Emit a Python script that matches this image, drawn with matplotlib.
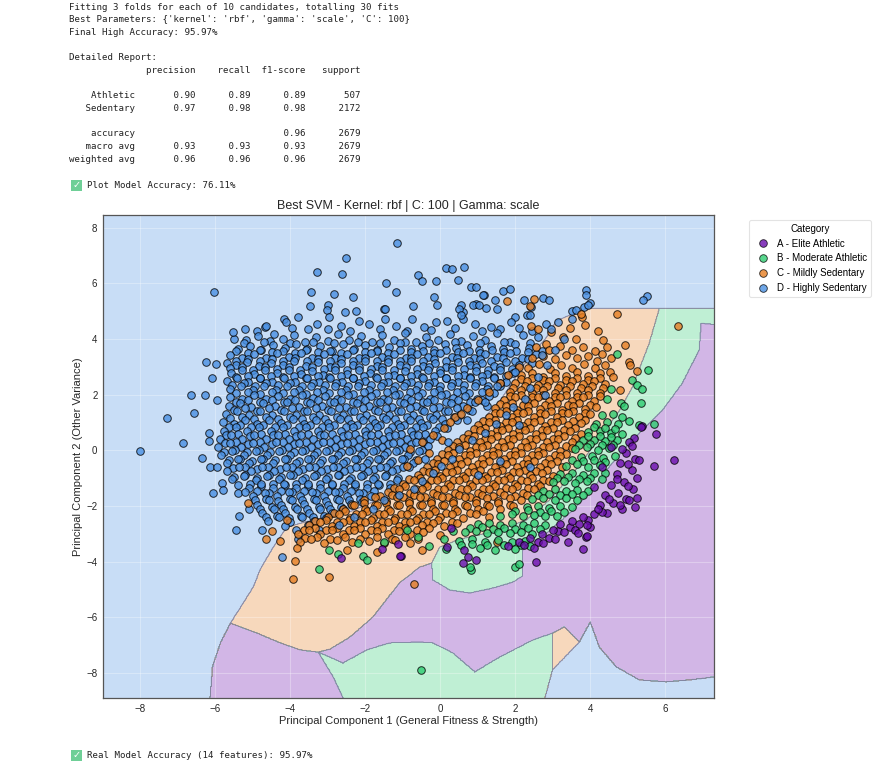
import matplotlib
matplotlib.use("Agg")
import matplotlib.pyplot as plt
import numpy as np
from matplotlib.lines import Line2D
from matplotlib.path import Path
from matplotlib.patches import Rectangle

plt.rcParams['font.family'] = ['Liberation Sans', 'DejaVu Sans']

categories = ["A - Elite Athletic", "B - Moderate Athletic",
              "C - Mildly Sedentary", "D - Highly Sedentary"]
colors = ["#6a0dad", "#2ecc71", "#e67e22", "#4a90e2"]

log_lines = [
    "Fitting 3 folds for each of 10 candidates, totalling 30 fits",
    "Best Parameters: {'kernel': 'rbf', 'gamma': 'scale', 'C': 100}",
    "Final High Accuracy: 95.97%",
    "",
    "Detailed Report:",
    "              precision    recall  f1-score   support",
    "",
    "    Athletic       0.90      0.89      0.89       507",
    "   Sedentary       0.97      0.98      0.98      2172",
    "",
    "    accuracy                           0.96      2679",
    "   macro avg       0.93      0.93      0.93      2679",
    "weighted avg       0.96      0.96      0.96      2679",
]
plot_acc = "Plot Model Accuracy: 76.11%"
real_acc = "Real Model Accuracy (14 features): 95.97%"

# decision regions (label, polygon in PC units)
purple_area = [(-6.16, -9.2), (-6.08, -7.78), (-5.87, -6.92), (-5.60, -6.21),
               (-4.0, -5.0), (-1.0, -4.0), (1.0, -3.0), (3.0, -2.0),
               (5.04, 0.25), (5.39, 0.72), (5.92, 1.43), (6.45, 2.40),
               (6.90, 3.59), (6.96, 4.56), (7.6, 4.48), (7.6, -9.2)]
orange_area = [(-5.60, -6.21), (-4.89, -6.57), (-4.27, -6.92), (-3.74, -7.17),
               (-3.26, -7.25), (-2.94, -7.14), (-2.41, -6.71), (-1.80, -5.99),
               (-1.08, -4.75), (-0.55, -4.20), (-0.23, -4.05), (-0.02, -3.48),
               (0.5, -3.2), (1.5, -2.9), (2.3, -2.5), (2.9, -1.8), (3.5, -0.9),
               (4.0, 0.0), (4.5, 0.9), (4.78, 1.43), (5.12, 2.26), (5.57, 3.84),
               (5.84, 5.09), (3.90, 5.09), (3.10, 4.66), (2.83, 4.05),
               (2.3, 3.2), (1.6, 1.8), (0.8, 0.6), (-0.2, -0.6), (-1.2, -1.5),
               (-2.4, -2.2), (-3.4, -2.5), (-4.09, -2.76), (-4.46, -3.48),
               (-4.81, -4.29), (-4.99, -4.91), (-5.26, -5.49)]
green_area = [(5.84, 5.09), (7.6, 5.09), (7.6, 4.48), (6.96, 4.56), (6.90, 3.59),
              (6.45, 2.40), (5.92, 1.43), (5.39, 0.72), (5.04, 0.25),
              (4.5, -0.6), (4.0, -1.5), (3.5, -2.2), (2.9, -2.9), (2.19, -3.59),
              (2.19, -4.52), (1.93, -4.74), (1.40, -4.95), (0.78, -5.13),
              (0.25, -5.02), (-0.20, -4.66), (-0.23, -4.05), (-0.02, -3.48),
              (0.5, -3.2), (1.5, -2.9), (2.3, -2.5), (2.9, -1.8), (3.5, -0.9),
              (4.0, 0.0), (4.5, 0.9), (4.78, 1.43), (5.12, 2.26), (5.57, 3.84)]
green_bottom = [(-3.26, -7.25), (-2.60, -7.64), (-1.96, -7.17), (-1.35, -6.92),
                (-0.55, -6.89), (-0.20, -6.92), (0.33, -7.28), (0.92, -7.96),
                (1.58, -7.43), (2.46, -6.82), (2.99, -6.57), (2.99, -7.89),
                (2.73, -9.2), (-2.49, -9.2), (-2.86, -8.14)]
orange_bottom = [(2.99, -6.57), (3.31, -6.35), (3.71, -6.89), (2.99, -7.89)]
blue_bottom = [(2.73, -9.2), (2.99, -7.89), (3.71, -6.89), (4.0, -6.17),
               (4.24, -7.07), (4.69, -7.78), (5.31, -8.25), (6.02, -8.32),
               (6.64, -8.25), (7.6, -8.1), (7.6, -9.2)]
regions = [(0, purple_area), (2, orange_area), (1, green_area),
           (1, green_bottom), (2, orange_bottom), (3, blue_bottom)]

# scatter points (x y pairs) per category
pts_A = """
5.75 0.57 5.38 0.86 5.17 0.44 5.04 0.30 4.55 0.12 6.24 -0.34 5.69 -0.57
4.95 -0.1 5.2 -0.3 4.8 -0.45 5.1 -0.7 4.7 -0.85 5.25 -1.0 4.9 -1.15
4.55 -1.25 5.15 -1.4 4.75 -1.55 4.4 -1.6 4.95 -1.75 4.6 -1.9 4.25 -1.95
4.85 -2.1 4.45 -2.25 4.1 -2.3 5.25 -1.7 5.2 -2.05 4.09 -1.32 4.3 -0.6
5.35 0.84 5.3 -0.36 5.03 -1.79 4.3 -2.21 3.98 -2.75
4.7 -1.05 5.0 -1.3 4.5 -1.75 4.8 -1.95 4.2 -2.1 3.95 -2.5 3.7 -2.65
3.45 -2.75 3.15 -2.9 2.9 -3.15 2.6 -3.3 5.0 -0.5 4.85 0.05 5.1 0.15
3.8 -2.4 3.5 -2.55 3.2 -2.65 3.9 -2.7 3.6 -2.85 3.3 -2.95 3.0 -2.85
2.7 -3.0 3.05 -3.2 2.4 -3.15 2.75 -3.35 2.1 -3.3 2.5 -3.5 3.4 -3.3
1.8 -3.45 3.67 -2.99 2.24 -3.41 3.88 -3.11
3.80 -3.55 3.92 -3.09 2.54 -4.01 0.63 -3.59 0.60 -4.04 0.96 -3.95
0.73 -3.83 0.29 -2.81 0.19 -3.47 -1.05 -3.80 -2.64 -3.86 -1.55 -3.56
-1.08 -3.80 -1.14 -3.37
"""
pts_B = """
4.70 3.44 5.54 2.87 5.10 2.54 5.24 2.36 5.37 2.21 5.36 1.70 5.69 0.96
5.29 0.90 5.04 1.05 4.82 1.70 4.9 1.6 4.55 2.2 4.45 1.85
4.3 1.25 4.6 1.3 4.85 1.2 4.15 0.95 4.45 1.0 4.75 0.95
3.95 0.65 4.25 0.7 4.55 0.62 4.85 0.6 3.8 0.35 4.1 0.38 4.4 0.32 4.7 0.35
3.95 0.5 4.25 0.52 4.55 0.48 4.1 0.82 4.4 0.8 4.65 0.78 3.7 0.2 4.0 0.22
4.3 0.18 4.6 0.2
3.6 0.05 3.9 0.1 4.2 0.02 4.5 0.08 3.75 -0.25 4.05 -0.2 4.35 -0.28 4.65 -0.22
3.5 -0.35 3.8 -0.4 4.1 -0.36 4.4 -0.42
3.35 -0.55 3.65 -0.5 3.95 -0.6 4.25 -0.52 3.2 -0.85 3.5 -0.8 3.8 -0.88
4.1 -0.82 4.4 -0.8 3.1 -1.0 3.4 -0.96 3.7 -1.02 4.0 -0.98 4.3 -1.02
3.0 -1.15 3.3 -1.1 3.6 -1.18 3.9 -1.12 2.75 -1.45 3.05 -1.4 3.35 -1.48
3.65 -1.42 3.95 -1.45 2.6 -1.6 2.9 -1.56 3.2 -1.62 3.5 -1.58 3.8 -1.62
2.45 -1.75 2.75 -1.7 3.05 -1.78 3.35 -1.72 3.65 -1.78 2.3 -2.05 2.6 -2.0
2.9 -2.08 3.2 -2.02 3.5 -2.05 2.0 -2.2 2.35 -2.16 2.65 -2.22 2.95 -2.18
3.3 -2.22
1.6 -2.35 1.9 -2.3 2.2 -2.38 2.5 -2.32 2.8 -2.38 3.1 -2.35 1.0 -2.65
1.3 -2.6 1.6 -2.68 1.9 -2.62 2.2 -2.68 2.5 -2.62 2.8 -2.7
0.8 -2.8 1.1 -2.76 1.4 -2.82 1.7 -2.78 2.0 -2.82 2.35 -2.78 2.65 -2.84
0.35 -2.9 0.65 -2.95 0.95 -2.9 1.25 -2.98 1.55 -2.92 1.85 -2.98 2.15 -2.92
2.45 -3.0 0.1 -3.2 0.5 -3.25 0.85 -3.2 1.2 -3.28 1.55 -3.22 1.9 -3.3 2.25 -3.25
0.55 -3.4 0.85 -3.38 1.25 -3.42 1.7 -3.4 2.15 -3.42
-0.3 -3.45 0.15 -3.55 1.05 -3.5 1.45 -3.6 2.0 -3.55 2.4 -3.45
0.83 -4.30 0.80 -4.19 1.98 -4.21 2.09 -4.07 -0.90 -2.87 -2.98 -3.59
-2.73 -3.73 -2.07 -3.80 -1.97 -3.95 -3.23 -4.27 -0.52 -7.89 -1.5 -3.3
-0.6 -3.1 -2.2 -3.35
"""
pts_C = """
4.71 4.88 3.78 4.78 3.75 4.90 4.33 3.95 4.93 3.77 5.04 3.17 5.06 3.05
5.25 2.84 4.53 2.81 4.60 2.63 4.30 3.44 4.17 3.20 4.78 2.15 2.51 5.44
1.78 5.35 2.38 5.18 6.33 4.48
2.42 4.48 2.6 4.35 2.95 4.25 3.27 4.07 3.62 4.0 3.45 4.4 3.85 4.5 4.2 4.3
2.82 3.83
2.55 3.7 2.9 3.6 3.2 3.75 3.5 3.6 3.8 3.72 4.12 3.58 4.45 3.7
2.45 3.3 2.75 3.4 3.05 3.28 3.35 3.42 3.65 3.3 3.95 3.4 4.55 3.3
2.35 2.95 2.62 3.08 2.93 2.92 3.22 3.06 3.52 2.94 3.82 3.08 4.12 2.95 4.38 3.05
2.15 2.7 2.45 2.78 2.75 2.64 3.05 2.78 3.35 2.65 3.65 2.8 3.95 2.66 4.25 2.76
2.15 2.55 2.45 2.6 2.75 2.52 3.05 2.6 3.35 2.52 3.65 2.6 3.95 2.52 4.25 2.58
2.0 2.4 2.3 2.5 2.6 2.36 2.9 2.5 3.2 2.36 3.5 2.5 3.8 2.38 4.1 2.5 4.4 2.38
1.95 2.25 2.25 2.3 2.55 2.22 2.85 2.3 3.15 2.22 3.45 2.3 3.75 2.22 4.05 2.3
4.35 2.24
1.85 2.1 2.15 2.18 2.45 2.04 2.75 2.18 3.05 2.05 3.35 2.18 3.65 2.04 3.95 2.16
4.25 2.06
1.85 1.95 2.15 2.0 2.45 1.92 2.75 2.0 3.05 1.92 3.35 2.0 3.65 1.92 3.95 2.0
4.25 1.94
1.7 1.8 2.0 1.9 2.3 1.76 2.6 1.9 2.9 1.76 3.2 1.9 3.5 1.77 3.8 1.9 4.1 1.78
1.6 1.65 1.9 1.7 2.2 1.62 2.5 1.7 2.8 1.62 3.1 1.7 3.4 1.62 3.7 1.7 4.0 1.64
1.45 1.5 1.75 1.6 2.05 1.46 2.35 1.6 2.65 1.47 2.95 1.6 3.25 1.46 3.55 1.58
3.85 1.48 4.15 1.56
1.45 1.35 1.75 1.4 2.05 1.32 2.35 1.4 2.65 1.32 2.95 1.4 3.25 1.32 3.55 1.4
3.85 1.34
1.3 1.2 1.6 1.32 1.9 1.18 2.2 1.32 2.5 1.18 2.8 1.3 3.1 1.18 3.4 1.32 3.7 1.2
4.0 1.3
1.15 1.05 1.45 1.1 1.75 1.02 2.05 1.1 2.35 1.02 2.65 1.1 2.95 1.02 3.25 1.1
3.55 1.04 3.85 1.1
1.0 0.9 1.3 1.02 1.6 0.88 1.9 1.0 2.2 0.86 2.5 1.0 2.8 0.88 3.1 1.02 3.4 0.9
3.75 0.98
0.9 0.75 1.2 0.8 1.5 0.72 1.8 0.8 2.1 0.72 2.4 0.8 2.7 0.72 3.0 0.8 3.3 0.74
3.6 0.8
0.75 0.6 1.05 0.72 1.35 0.58 1.65 0.72 1.95 0.58 2.25 0.72 2.55 0.6 2.85 0.72
3.15 0.58 3.45 0.7 3.75 0.6
0.6 0.45 0.9 0.5 1.2 0.42 1.5 0.5 1.8 0.42 2.1 0.5 2.4 0.42 2.7 0.5 3.0 0.42
3.3 0.5 3.6 0.44
0.45 0.3 0.75 0.42 1.05 0.28 1.35 0.42 1.65 0.28 1.95 0.42 2.25 0.3 2.55 0.42
2.85 0.28 3.15 0.42 3.5 0.3
0.35 0.15 0.65 0.2 0.95 0.12 1.25 0.2 1.55 0.12 1.85 0.2 2.15 0.12 2.45 0.2
2.75 0.12 3.05 0.2 3.35 0.14
0.2 0.0 0.5 0.12 0.8 -0.02 1.1 0.12 1.4 -0.02 1.7 0.12 2.0 -0.01 2.3 0.12
2.6 -0.02 2.9 0.1 3.2 -0.02 3.5 0.08
0.05 -0.15 0.35 -0.1 0.65 -0.18 0.95 -0.1 1.25 -0.18 1.55 -0.1 1.85 -0.18
2.15 -0.1 2.45 -0.18 2.75 -0.1 3.05 -0.16 3.35 -0.12
-0.1 -0.3 0.2 -0.18 0.5 -0.32 0.8 -0.18 1.1 -0.32 1.4 -0.18 1.7 -0.32 2.0 -0.18
2.3 -0.32 2.6 -0.18 2.9 -0.3 3.2 -0.2
-0.2 -0.45 0.1 -0.4 0.4 -0.48 0.7 -0.4 1.0 -0.48 1.3 -0.4 1.6 -0.48 1.9 -0.4
2.2 -0.48 2.5 -0.4 2.8 -0.46 3.1 -0.4
-0.35 -0.6 -0.05 -0.48 0.25 -0.62 0.55 -0.48 0.85 -0.62 1.15 -0.48 1.45 -0.62
1.75 -0.48 2.05 -0.62 2.35 -0.48 2.65 -0.6 2.95 -0.5 3.25 -0.62
-0.45 -0.75 -0.15 -0.7 0.15 -0.78 0.45 -0.7 0.75 -0.78 1.05 -0.7 1.35 -0.78
1.65 -0.7 1.95 -0.78 2.25 -0.7 2.55 -0.76 2.85 -0.7
-0.6 -0.9 -0.3 -0.78 0.0 -0.92 0.3 -0.78 0.6 -0.92 0.9 -0.78 1.2 -0.92
1.5 -0.78 1.8 -0.92 2.1 -0.78 2.4 -0.9 2.7 -0.8 3.0 -0.92
-0.85 -1.05 -0.55 -1.0 -0.25 -1.08 0.05 -1.0 0.35 -1.08 0.65 -1.0 0.95 -1.08
1.25 -1.0 1.55 -1.08 1.85 -1.0 2.15 -1.06 2.45 -1.0 2.75 -1.06
-1.0 -1.2 -0.7 -1.08 -0.4 -1.22 -0.1 -1.08 0.2 -1.22 0.5 -1.08 0.8 -1.22
1.1 -1.08 1.4 -1.22 1.7 -1.08 2.0 -1.2 2.3 -1.1 2.6 -1.22 2.9 -1.1
-1.25 -1.35 -0.95 -1.3 -0.65 -1.38 -0.35 -1.3 -0.05 -1.38 0.25 -1.3 0.55 -1.38
0.85 -1.3 1.15 -1.38 1.45 -1.3 1.75 -1.36 2.05 -1.3 2.35 -1.36 2.65 -1.3
-1.4 -1.5 -1.1 -1.38 -0.8 -1.52 -0.5 -1.38 -0.2 -1.52 0.1 -1.38 0.4 -1.52
0.7 -1.38 1.0 -1.52 1.3 -1.38 1.6 -1.5 1.9 -1.4 2.2 -1.52 2.5 -1.4
-1.6 -1.65 -1.3 -1.6 -1.0 -1.68 -0.7 -1.6 -0.4 -1.68 -0.1 -1.6 0.2 -1.68
0.5 -1.6 0.8 -1.68 1.1 -1.6 1.4 -1.66 1.7 -1.6 2.0 -1.66 2.3 -1.6
-2.05 -1.8 -1.75 -1.68 -1.45 -1.82 -1.15 -1.68 -0.85 -1.82 -0.55 -1.68
-0.25 -1.82 0.05 -1.68 0.35 -1.82 0.65 -1.68 0.95 -1.8 1.25 -1.7 1.55 -1.82
1.85 -1.7 2.15 -1.8
-2.35 -1.95 -2.05 -1.9 -1.75 -1.98 -1.45 -1.9 -1.15 -1.98 -0.85 -1.9
-0.55 -1.98 -0.25 -1.9 0.05 -1.98 0.35 -1.9 0.65 -1.96 0.95 -1.9 1.25 -1.96
1.55 -1.9 1.85 -1.95
-2.6 -2.1 -2.3 -1.98 -2.0 -2.12 -1.7 -1.98 -1.4 -2.12 -1.1 -1.98 -0.8 -2.12
-0.5 -1.98 -0.2 -2.12 0.1 -1.98 0.4 -2.1 0.7 -2.0 1.0 -2.12 1.3 -2.0 1.6 -2.1
1.95 -2.0
-2.85 -2.25 -2.55 -2.2 -2.25 -2.28 -1.95 -2.2 -1.65 -2.28 -1.35 -2.2
-1.05 -2.28 -0.75 -2.2 -0.45 -2.28 -0.15 -2.2 0.15 -2.26 0.45 -2.2 0.8 -2.26
1.15 -2.2
-3.0 -2.4 -2.7 -2.28 -2.4 -2.42 -2.1 -2.28 -1.8 -2.42 -1.5 -2.28 -1.2 -2.42
-0.9 -2.28 -0.6 -2.42 -0.3 -2.28 0.0 -2.4 0.3 -2.3 0.6 -2.42 0.95 -2.3 1.3 -2.4
-3.35 -2.55 -3.05 -2.5 -2.75 -2.58 -2.45 -2.5 -2.15 -2.58 -1.85 -2.5
-1.55 -2.58 -1.25 -2.5 -0.95 -2.58 -0.65 -2.5 -0.35 -2.56 -0.05 -2.5 0.3 -2.56
-3.5 -2.7 -3.2 -2.58 -2.9 -2.72 -2.6 -2.58 -2.3 -2.72 -2.0 -2.58 -1.7 -2.72
-1.4 -2.58 -1.1 -2.72 -0.8 -2.58 -0.5 -2.7 -0.2 -2.6 0.1 -2.72 0.45 -2.62
-3.65 -2.85 -3.35 -2.8 -3.05 -2.88 -2.75 -2.8 -2.45 -2.88 -2.15 -2.8
-1.85 -2.88 -1.55 -2.8 -1.25 -2.88 -0.95 -2.8 -0.62 -2.86 -0.3 -2.8
-3.8 -3.0 -3.5 -2.88 -3.2 -3.02 -2.9 -2.88 -2.6 -3.02 -2.3 -2.88 -2.0 -3.02
-1.7 -2.9 -1.4 -3.02 -1.1 -2.9 -0.8 -3.0 -0.45 -2.92 0.0 -3.05
-3.6 -3.15 -3.3 -3.1 -2.95 -3.18 -2.55 -3.12 -2.15 -3.18 -1.7 -3.12
-1.3 -3.18 -0.95 -3.12 -0.6 -3.18
-3.75 -3.3 -3.45 -3.2 -3.1 -3.35 -2.75 -3.22 -2.35 -3.3 -1.9 -3.25 -1.5 -3.35
-1.2 -3.22 -0.8 -3.32
-0.8 0.05 -0.5 0.3 -0.2 0.55 0.1 0.8 -0.6 -0.35 -0.3 -0.1 0.05 0.35
-0.9 -0.55 0.4 1.2 0.7 1.5 1.0 1.8 1.3 2.1 1.6 2.4 1.8 2.7 2.1 3.0
0.25 1.0 0.55 1.3
-3.92 -4.62 -2.98 -4.57 -0.70 -4.82 -3.88 -3.97 -0.5 -3.59 -4.66 -3.19
-4.27 -3.26 -5.12 -1.91 -3.83 -3.50 -2.5 -3.6 -1.7 -3.65 1.5 -3.3
-4.1 -2.5 -4.5 -2.9
"""
pts_D = """
-1.17 7.45 -2.52 6.89 -3.30 6.39 -2.62 6.33 0.14 6.55 0.32 6.51 0.62 6.58
-0.59 6.28 -0.50 6.07 -0.12 6.07 0.47 6.13 -1.45 5.99 0.83 5.88 0.94 5.88
1.67 5.72 1.87 5.78 3.89 5.74 3.89 5.56 -1.19 5.68 -6.03 5.67 -3.45 5.67
-2.84 5.63 1.16 5.59 5.50 5.55 5.40 5.41 -2.33 5.49 -0.17 5.50 2.73 5.48
2.89 5.41 1.47 5.38 2.22 5.38 3.98 5.29 0.96 5.26 0.54 5.23 -3.00 5.20
-0.08 5.20 -3.48 5.18 -0.73 5.18 2.42 5.14 3.84 5.14 1.23 5.10 -1.51 5.06
3.52 5.00 -2.25 4.99 0.60 4.96 -3.79 4.80 -4.17 4.71 -4.67 4.42 -3.54 4.35
-3.02 5.02 -2.54 4.96 -2.17 4.66 -1.49 5.08 0.88 5.2 1.14 5.56 3.93 5.2
3.61 5.02 3.51 4.72 0.51 5.08 0.61 4.72 1.04 5.2 1.51 5.08 1.98 4.78
2.30 4.84 -4.65 4.48 -4.12 4.60 -3.28 4.54 -2.96 4.78 -2.65 4.48 -1.91 4.54
-1.49 4.72 -1.18 4.48 -0.75 4.72 -0.44 4.42 -0.12 4.60 0.19 4.66 0.56 4.84
0.93 4.54 1.35 4.42 1.88 4.60 2.40 4.84 2.82 4.54
-5.2 4.35 -4.9 4.28 -3.95 4.4 -3.0 4.36 -2.4 4.3 -1.6 4.35 -0.9 4.3
-0.25 4.32 0.4 4.38 1.1 4.3 1.6 4.35 2.1 4.4 2.45 4.3
-5.51 4.00 -5.54 4.24 -5.18 3.95 -4.86 4.12 -4.55 3.92 -4.44 4.19 -4.2 3.98
-3.9 4.15 -3.62 3.9 -3.33 4.08 -3.0 3.93 -2.72 4.18 -2.45 3.95 -2.12 4.1
-1.83 3.88 -1.55 4.15 -1.25 3.97 -0.95 4.2 -0.66 3.9 -0.38 4.08 -0.05 3.95
0.27 4.18 0.55 3.92 0.86 4.1 1.2 3.96 1.52 4.2 1.85 3.9 2.61 4.06 2.2 4.15
-5.25 3.86 -4.7 3.88 -4.0 3.86 -3.4 3.88 -2.85 3.86 -2.2 3.88 -1.6 3.86
-0.95 3.88 -0.3 3.86 0.4 3.88 1.05 3.86 1.7 3.88 2.4 3.86
-5.4 3.62 -5.08 3.75 -4.78 3.6 -4.47 3.78 -4.15 3.66 -3.86 3.8 -3.55 3.62
-3.22 3.74 -2.9 3.58 -2.6 3.8 -2.3 3.65 -2.0 3.78 -1.7 3.6 -1.38 3.72
-1.08 3.84 -0.78 3.62 -0.48 3.76 -0.18 3.6 0.12 3.8 0.42 3.66 0.72 3.78
1.02 3.6 1.35 3.74 1.68 3.62 2.0 3.8 2.36 3.68 2.7 3.58
-5.45 3.55 -5.12 3.5 -4.82 3.6 -4.5 3.52 -4.2 3.58 -3.88 3.5 -3.58 3.6
-3.27 3.52 -2.95 3.58 -2.64 3.5 -2.33 3.6 -2.02 3.52 -1.7 3.58 -1.4 3.5
-1.08 3.6 -0.78 3.52 -0.47 3.58 -0.16 3.5 0.15 3.6 0.46 3.52 0.76 3.58
1.06 3.5 1.38 3.6 1.7 3.52 2.02 3.58 2.35 3.52
-5.6 3.42 -5.3 3.3 -4.98 3.45 -4.66 3.32 -4.36 3.48 -4.05 3.35 -3.72 3.5
-3.42 3.33 -3.1 3.46 -2.8 3.3 -2.48 3.44 -2.17 3.32 -1.86 3.5 -1.55 3.36
-1.24 3.47 -0.93 3.3 -0.62 3.45 -0.32 3.34 0.0 3.5 0.3 3.35 0.6 3.48
0.9 3.32 1.2 3.46 1.52 3.36 1.85 3.5 2.18 3.3 2.55 3.44
-5.45 3.22 -5.13 3.28 -4.82 3.2 -4.5 3.28 -4.2 3.22 -3.88 3.3 -3.57 3.2
-3.26 3.28 -2.95 3.2 -2.64 3.28 -2.32 3.22 -2.02 3.3 -1.7 3.2 -1.4 3.28
-1.08 3.22 -0.78 3.3 -0.46 3.2 -0.16 3.28 0.15 3.22 0.45 3.3 0.76 3.2
1.06 3.28 1.36 3.22 1.68 3.3 2.0 3.2 2.33 3.26
-6.24 3.16 -5.99 3.09 -5.69 3.12 -5.45 3.05 -5.15 3.18 -4.83 3.02 -4.52 3.15
-4.2 3.06 -3.9 3.2 -3.58 3.04 -3.27 3.16 -2.95 3.0 -2.64 3.14 -2.33 3.05
-2.02 3.2 -1.7 3.02 -1.4 3.16 -1.08 3.06 -0.77 3.2 -0.46 3.03 -0.15 3.15
0.16 3.0 0.46 3.18 0.78 3.05 1.1 3.15 1.42 3.02 1.75 3.18 2.1 3.06 2.45 3.12
-5.6 2.95 -5.3 2.98 -5.0 2.9 -4.68 2.98 -4.36 2.92 -4.05 2.98 -3.74 2.9
-3.43 2.98 -3.1 2.92 -2.8 2.98 -2.48 2.9 -2.17 2.98 -1.86 2.92 -1.55 2.98
-1.24 2.9 -0.92 2.98 -0.62 2.92 -0.3 2.98 0.0 2.9 0.32 2.98 0.62 2.92
0.95 2.98 1.26 2.9 1.58 2.98 1.92 2.92
-5.58 2.78 -5.28 2.9 -4.97 2.74 -4.67 2.88 -4.35 2.76 -4.05 2.9 -3.73 2.74
-3.42 2.86 -3.12 2.72 -2.8 2.88 -2.5 2.75 -2.18 2.9 -1.87 2.76 -1.56 2.88
-1.24 2.72 -0.94 2.86 -0.63 2.74 -0.32 2.9 0.0 2.76 0.3 2.88 0.62 2.72
0.94 2.86 1.25 2.75 1.6 2.9 1.95 2.78
-5.45 2.62 -5.13 2.68 -4.82 2.6 -4.52 2.68 -4.2 2.62 -3.9 2.68 -3.58 2.6
-3.27 2.68 -2.96 2.62 -2.65 2.68 -2.34 2.6 -2.03 2.68 -1.72 2.62 -1.4 2.68
-1.09 2.6 -0.78 2.68 -0.48 2.62 -0.16 2.68 0.15 2.6 0.46 2.68 0.78 2.62
1.1 2.68 1.42 2.62 1.76 2.68
-6.09 2.58 -5.7 2.5 -5.42 2.6 -5.12 2.46 -4.8 2.6 -4.5 2.45 -4.18 2.58
-3.88 2.44 -3.57 2.6 -3.25 2.46 -2.95 2.58 -2.63 2.44 -2.33 2.6 -2.02 2.47
-1.7 2.6 -1.4 2.44 -1.08 2.58 -0.78 2.45 -0.47 2.6 -0.16 2.46 0.15 2.58
0.46 2.44 0.78 2.6 1.1 2.47 1.42 2.58 1.75 2.45
-5.55 2.35 -5.25 2.4 -4.94 2.32 -4.64 2.4 -4.33 2.34 -4.02 2.4 -3.7 2.32
-3.4 2.4 -3.08 2.34 -2.78 2.4 -2.46 2.32 -2.16 2.4 -1.85 2.34 -1.54 2.4
-1.22 2.32 -0.92 2.4 -0.6 2.34 -0.3 2.4 0.0 2.32 0.3 2.4 0.62 2.34 0.94 2.4
1.26 2.32 1.58 2.4
-5.62 2.2 -5.32 2.3 -5.0 2.16 -4.7 2.3 -4.38 2.18 -4.08 2.32 -3.76 2.16
-3.45 2.3 -3.14 2.18 -2.82 2.32 -2.52 2.16 -2.2 2.3 -1.9 2.18 -1.58 2.32
-1.27 2.16 -0.96 2.3 -0.65 2.18 -0.34 2.32 -0.03 2.16 0.28 2.3 0.6 2.18
0.92 2.32 1.25 2.2 1.6 2.3
-5.45 2.05 -5.14 2.1 -4.82 2.02 -4.5 2.1 -4.2 2.04 -3.9 2.1 -3.58 2.02
-3.28 2.1 -2.96 2.04 -2.66 2.1 -2.34 2.02 -2.04 2.1 -1.72 2.04 -1.42 2.1
-1.1 2.02 -0.8 2.1 -0.48 2.04 -0.18 2.1 0.14 2.02 0.45 2.1 0.77 2.04 1.1 2.1
1.42 2.04
-6.65 1.97 -6.27 1.97 -5.96 1.79 -5.6 1.92 -5.28 1.85 -4.96 1.98 -4.65 1.84
-4.33 1.96 -4.02 1.83 -3.7 1.98 -3.4 1.86 -3.08 1.96 -2.77 1.84 -2.46 1.98
-2.15 1.85 -1.84 1.96 -1.52 1.84 -1.21 1.98 -0.9 1.86 -0.59 1.96 -0.28 1.84
0.03 1.98 0.35 1.86 0.66 1.96 0.98 1.84 1.3 1.96
-5.45 1.75 -5.12 1.8 -4.8 1.72 -4.5 1.8 -4.18 1.74 -3.88 1.8 -3.56 1.72
-3.26 1.8 -2.94 1.74 -2.64 1.8 -2.32 1.72 -2.02 1.8 -1.7 1.74 -1.4 1.8
-1.08 1.72 -0.78 1.8 -0.46 1.74 -0.16 1.8 0.16 1.72 0.46 1.8 0.78 1.74 1.1 1.8
-5.65 1.6 -5.35 1.7 -5.04 1.56 -4.72 1.7 -4.4 1.58 -4.1 1.72 -3.78 1.57
-3.47 1.7 -3.15 1.58 -2.85 1.72 -2.53 1.57 -2.22 1.7 -1.9 1.58 -1.6 1.72
-1.28 1.56 -0.97 1.7 -0.66 1.58 -0.35 1.72 -0.04 1.57 0.28 1.7 0.6 1.58
0.92 1.72 1.25 1.6
-5.5 1.45 -5.2 1.5 -4.88 1.42 -4.57 1.5 -4.26 1.44 -3.95 1.5 -3.63 1.42
-3.32 1.5 -3.0 1.44 -2.7 1.5 -2.38 1.42 -2.07 1.5 -1.75 1.44 -1.45 1.5
-1.13 1.42 -0.82 1.5 -0.5 1.44 -0.2 1.5 0.12 1.42 0.44 1.5 0.76 1.44
-6.56 1.33 -7.28 1.15 -5.72 1.3 -5.42 1.4 -5.1 1.27 -4.8 1.42 -4.48 1.28
-4.17 1.4 -3.86 1.26 -3.55 1.42 -3.23 1.28 -2.92 1.4 -2.6 1.26 -2.3 1.42
-1.98 1.28 -1.67 1.4 -1.36 1.26 -1.05 1.42 -0.74 1.28 -0.43 1.4 -0.12 1.26
0.2 1.42 0.52 1.28 0.84 1.4
-5.6 1.15 -5.28 1.2 -4.96 1.12 -4.65 1.2 -4.34 1.14 -4.02 1.2 -3.7 1.12
-3.4 1.2 -3.08 1.14 -2.77 1.2 -2.46 1.12 -2.15 1.2 -1.83 1.14 -1.52 1.2
-1.2 1.12 -0.9 1.2 -0.58 1.14 -0.28 1.2 0.04 1.12 0.36 1.2
-5.8 1.02 -5.5 0.95 -5.2 1.1 -4.88 0.96 -4.57 1.1 -4.25 0.97 -3.94 1.12
-3.63 0.96 -3.32 1.1 -3.0 0.97 -2.69 1.12 -2.38 0.96 -2.07 1.1 -1.75 0.97
-1.44 1.12 -1.13 0.96 -0.82 1.1 -0.51 0.98 -0.2 1.12 0.12 0.96 0.44 1.1
-5.65 0.85 -5.35 0.9 -5.04 0.82 -4.72 0.9 -4.4 0.84 -4.1 0.9 -3.78 0.82
-3.47 0.9 -3.15 0.84 -2.84 0.9 -2.53 0.82 -2.22 0.9 -1.9 0.84 -1.6 0.9
-1.28 0.82 -0.97 0.9 -0.66 0.84 -0.35 0.9 -0.04 0.82
-6.16 0.61 -5.78 0.7 -5.46 0.82 -5.15 0.68 -4.83 0.82 -4.52 0.68 -4.2 0.83
-3.9 0.68 -3.58 0.82 -3.27 0.69 -2.96 0.84 -2.64 0.68 -2.33 0.82 -2.02 0.7
-1.7 0.84 -1.4 0.68 -1.08 0.82 -0.77 0.69 -0.46 0.83 -0.15 0.68 0.18 0.8
-5.72 0.55 -5.4 0.6 -5.08 0.52 -4.78 0.6 -4.46 0.54 -4.15 0.6 -3.84 0.52
-3.52 0.6 -3.22 0.54 -2.9 0.6 -2.6 0.52 -2.28 0.6 -1.98 0.54 -1.66 0.6
-1.36 0.52 -1.04 0.6 -0.74 0.54 -0.42 0.6 -0.1 0.52
-6.16 0.32 -6.86 0.25 -5.88 0.42 -5.58 0.55 -5.28 0.4 -4.97 0.55 -4.66 0.41
-4.34 0.56 -4.03 0.4 -3.72 0.55 -3.4 0.41 -3.1 0.56 -2.78 0.4 -2.47 0.55
-2.16 0.42 -1.84 0.56 -1.53 0.41 -1.22 0.55 -0.9 0.42 -0.6 0.56 -0.28 0.4
-5.75 0.25 -5.45 0.3 -5.14 0.22 -4.82 0.3 -4.5 0.24 -4.2 0.3 -3.9 0.22
-3.58 0.3 -3.26 0.24 -2.95 0.3 -2.64 0.22 -2.33 0.3 -2.02 0.24 -1.7 0.3
-1.4 0.22 -1.08 0.3 -0.78 0.24 -0.46 0.3
-8.0 -0.03 -5.92 0.1 -5.62 0.26 -5.32 0.12 -5.0 0.27 -4.7 0.13 -4.38 0.28
-4.07 0.12 -3.76 0.27 -3.44 0.13 -3.13 0.28 -2.82 0.12 -2.5 0.27 -2.2 0.13
-1.88 0.28 -1.57 0.12 -1.26 0.27 -0.95 0.13 -0.64 0.28 -0.33 0.14
-5.78 -0.05 -5.48 0.0 -5.16 -0.08 -4.85 0.0 -4.54 -0.06 -4.22 0.0 -3.9 -0.08
-3.6 0.0 -3.28 -0.06 -2.98 0.0 -2.66 -0.08 -2.35 0.0 -2.04 -0.06 -1.72 0.0
-1.42 -0.08 -1.1 0.0 -0.8 -0.06 -0.48 0.0
-6.36 -0.29 -5.85 -0.18 -5.55 -0.03 -5.25 -0.17 -4.93 -0.02 -4.62 -0.16
-4.3 -0.01 -4.0 -0.17 -3.68 -0.02 -3.37 -0.16 -3.06 -0.01 -2.74 -0.17
-2.43 -0.02 -2.12 -0.16 -1.8 -0.01 -1.5 -0.17 -1.18 -0.02 -0.87 -0.16
-0.56 -0.02
-5.65 -0.35 -5.35 -0.3 -5.02 -0.38 -4.72 -0.3 -4.4 -0.36 -4.08 -0.3
-3.78 -0.38 -3.46 -0.3 -3.15 -0.36 -2.84 -0.3 -2.52 -0.38 -2.22 -0.3
-1.9 -0.36 -1.6 -0.3 -1.28 -0.38 -0.98 -0.3 -0.66 -0.36
-6.14 -0.6 -5.96 -0.6 -5.7 -0.45 -5.4 -0.32 -5.1 -0.46 -4.78 -0.31 -4.47 -0.45
-4.15 -0.3 -3.84 -0.46 -3.53 -0.31 -3.22 -0.45 -2.9 -0.3 -2.6 -0.46 -2.28 -0.31
-1.97 -0.45 -1.66 -0.3 -1.35 -0.46 -1.03 -0.32 -0.72 -0.45
-5.52 -0.65 -5.22 -0.6 -4.9 -0.68 -4.6 -0.6 -4.28 -0.66 -3.96 -0.6
-3.66 -0.68 -3.34 -0.6 -3.02 -0.66 -2.72 -0.6 -2.4 -0.68 -2.1 -0.6
-1.78 -0.66 -1.46 -0.6 -1.16 -0.68 -0.85 -0.6
-5.68 -0.75 -5.38 -0.62 -5.06 -0.76 -4.75 -0.6 -4.43 -0.75 -4.12 -0.61
-3.8 -0.76 -3.5 -0.6 -3.18 -0.75 -2.87 -0.61 -2.56 -0.76 -2.25 -0.6
-1.93 -0.75 -1.62 -0.61 -1.3 -0.76 -1.0 -0.62
-5.5 -0.95 -5.2 -0.9 -4.88 -0.98 -4.57 -0.9 -4.25 -0.96 -3.94 -0.9
-3.62 -0.98 -3.32 -0.9 -3.0 -0.96 -2.7 -0.9 -2.38 -0.98 -2.06 -0.9
-1.75 -0.96 -1.44 -0.9 -1.12 -0.98
-5.82 -1.19 -5.55 -1.05 -5.25 -0.92 -4.93 -1.06 -4.62 -0.91 -4.3 -1.05
-4.0 -0.9 -3.68 -1.06 -3.37 -0.92 -3.05 -1.05 -2.74 -0.9 -2.43 -1.06
-2.12 -0.92 -1.8 -1.05 -1.48 -0.92 -1.17 -1.06
-5.4 -1.25 -5.08 -1.2 -4.78 -1.28 -4.46 -1.2 -4.15 -1.26 -3.84 -1.2
-3.52 -1.28 -3.2 -1.2 -2.9 -1.26 -2.58 -1.2 -2.28 -1.28 -1.96 -1.2
-1.65 -1.26 -1.34 -1.2
-5.79 -1.43 -6.06 -1.55 -5.39 -1.55 -5.1 -1.35 -4.78 -1.22 -4.47 -1.36
-4.16 -1.21 -3.84 -1.35 -3.53 -1.2 -3.22 -1.36 -2.9 -1.22 -2.6 -1.35
-2.28 -1.2 -1.97 -1.36 -1.66 -1.22 -1.35 -1.34
-5.2 -1.5 -4.9 -1.45 -4.58 -1.52 -4.26 -1.45 -3.95 -1.5 -3.64 -1.45
-3.32 -1.52 -3.0 -1.45 -2.7 -1.5 -2.38 -1.45 -2.06 -1.52 -1.76 -1.46
-5.0 -1.66 -4.68 -1.52 -4.37 -1.66 -4.05 -1.5 -3.74 -1.65 -3.42 -1.51
-3.11 -1.66 -2.8 -1.5 -2.48 -1.65 -2.17 -1.52 -1.86 -1.64
-4.95 -1.8 -4.64 -1.75 -4.32 -1.82 -4.0 -1.75 -3.7 -1.8 -3.38 -1.75
-3.06 -1.82 -2.76 -1.75 -2.44 -1.8 -2.14 -1.75
-5.10 -2.12 -4.88 -1.95 -4.57 -1.8 -4.26 -1.95 -3.95 -1.8 -3.63 -1.94
-3.32 -1.79 -3.0 -1.95 -2.7 -1.8 -2.38 -1.94 -2.1 -1.85
-4.8 -2.1 -4.5 -2.05 -4.2 -2.12 -3.88 -2.05 -3.56 -2.1 -3.25 -2.05
-2.94 -2.12 -2.64 -2.05
-5.37 -2.36 -4.76 -2.26 -4.45 -2.1 -4.14 -2.25 -3.82 -2.1 -3.5 -2.26
-3.2 -2.1 -2.88 -2.24 -2.6 -2.12
-4.65 -2.4 -4.35 -2.35 -4.04 -2.42 -3.72 -2.35 -3.4 -2.4 -3.1 -2.35
-4.6 -2.55 -4.3 -2.4 -4.0 -2.56 -3.68 -2.4 -3.36 -2.55 -3.05 -2.42
-5.45 -2.87 -4.76 -2.87 -4.15 -2.72 -3.85 -2.86 -3.52 -2.7 -3.25 -2.88
-3.80 -3.19 -4.23 -3.85
"""
# blue points scattered inside the orange cloud (drawn on top of it)
pts_D_mixed = """
2.72 3.42 2.85 3.05 2.6 2.62 2.4 2.25 2.25 1.85 1.95 1.55 1.75 1.25
1.48 0.95 1.2 0.62 0.85 0.35 0.5 0.05 0.3 -0.3 0.02 -0.55 -0.2 -0.82
-0.5 -1.1 -0.7 -1.4 -1.1 -1.6 -1.5 -1.8 -1.8 -2.1 -2.3 -2.4 -2.7 -2.7
1.6 -0.4 2.1 0.9 2.8 2.0 3.05 3.6 3.3 4.0 2.95 4.35 3.15 4.6 1.0 -0.9 2.4 -0.6
1.2 1.75 0.7 1.1 2.0 2.8 0.2 0.3 -0.4 -0.3 1.5 2.3
"""


def parse(text):
    return np.array(text.split(), dtype=float).reshape(-1, 2)


points = [parse(pts_A), parse(pts_B), parse(pts_C), parse(pts_D)]
blue_mixed = parse(pts_D_mixed)

fig = plt.figure(figsize=(8.91, 7.68), dpi=100)
W, H = 891, 768

# notebook output text above the plot
for i, line in enumerate(log_lines):
    fig.text(69 / W, 1 - (7 + 12.7 * i) / H, line, family='DejaVu Sans Mono',
             fontsize=6.55, color='#222222', va='center', ha='left')


def check_line(y_px, text):
    fig.patches.append(Rectangle((71 / W, 1 - (y_px + 5.5) / H), 11 / W, 11 / H,
                                 transform=fig.transFigure, facecolor='#6fcf97',
                                 edgecolor='none'))
    fig.text(76.5 / W, 1 - y_px / H, "\u2713", color='white', fontsize=7,
             ha='center', va='center', family='DejaVu Sans', weight='bold')
    fig.text(87 / W, 1 - y_px / H, text, family='DejaVu Sans Mono',
             fontsize=6.55, color='#222222', va='center', ha='left')


check_line(185, plot_acc)
check_line(755, real_acc)

ax = fig.add_axes([103 / W, 1 - 698 / H, 611 / W, 483 / H])

gx = np.linspace(-9.0, 7.3, 816)
gy = np.linspace(-8.9, 8.45, 868)
xx, yy = np.meshgrid(gx, gy)
grid_pts = np.column_stack([xx.ravel(), yy.ravel()])
Z = np.full(xx.size, 3)
for label, poly in regions:
    Z[Path(poly).contains_points(grid_pts)] = label
Z = Z.reshape(xx.shape)

ax.contourf(xx, yy, Z, levels=[-0.5, 0.5, 1.5, 2.5, 3.5], colors=colors,
            alpha=0.3, zorder=1)
for k in range(4):
    ax.contour(xx, yy, (Z == k).astype(float), levels=[0.5],
               colors='#7f7f9f', linewidths=0.6, alpha=0.6, zorder=2)

scatter_kw = dict(s=30, edgecolors='k', linewidths=0.7, alpha=0.8, zorder=3)
ax.scatter(points[3][:, 0], points[3][:, 1], c=colors[3], **scatter_kw)
ax.scatter(points[2][:, 0], points[2][:, 1], c=colors[2], **scatter_kw)
ax.scatter(blue_mixed[:, 0], blue_mixed[:, 1], c=colors[3], **scatter_kw)
ax.scatter(points[1][:, 0], points[1][:, 1], c=colors[1], **scatter_kw)
ax.scatter(points[0][:, 0], points[0][:, 1], c=colors[0], **scatter_kw)

ax.set_xlim(-9.0, 7.3)
ax.set_ylim(-8.9, 8.45)
ax.set_xticks([-8, -6, -4, -2, 0, 2, 4, 6])
ax.set_yticks([-8, -6, -4, -2, 0, 2, 4, 6, 8])
ax.set_axisbelow('line')
ax.grid(True, color='white', alpha=0.3, linewidth=0.8)
ax.tick_params(length=0, labelsize=7, colors='#262626', pad=4)
for sp in ax.spines.values():
    sp.set_color('#555555')
    sp.set_linewidth(0.9)

ax.set_title("Best SVM - Kernel: rbf | C: 100 | Gamma: scale", fontsize=9,
             color='#262626', pad=4)
ax.set_xlabel("Principal Component 1 (General Fitness & Strength)",
              fontsize=8, color='#262626', labelpad=2)
ax.set_ylabel("Principal Component 2 (Other Variance)", fontsize=8,
              color='#262626', labelpad=2)

handles = [Line2D([], [], marker='o', linestyle='none', markersize=5.5,
                  markerfacecolor=c, markeredgecolor='k', markeredgewidth=0.6,
                  alpha=0.8) for c in colors]
leg = ax.legend(handles, categories, title="Category", loc='upper left',
                bbox_to_anchor=(1.05, 1.0), fontsize=7, title_fontsize=7,
                frameon=True, handletextpad=0.4)
leg.get_frame().set_edgecolor('#dddddd')
leg.get_frame().set_linewidth(0.8)

fig.savefig("out.png", dpi=100)
